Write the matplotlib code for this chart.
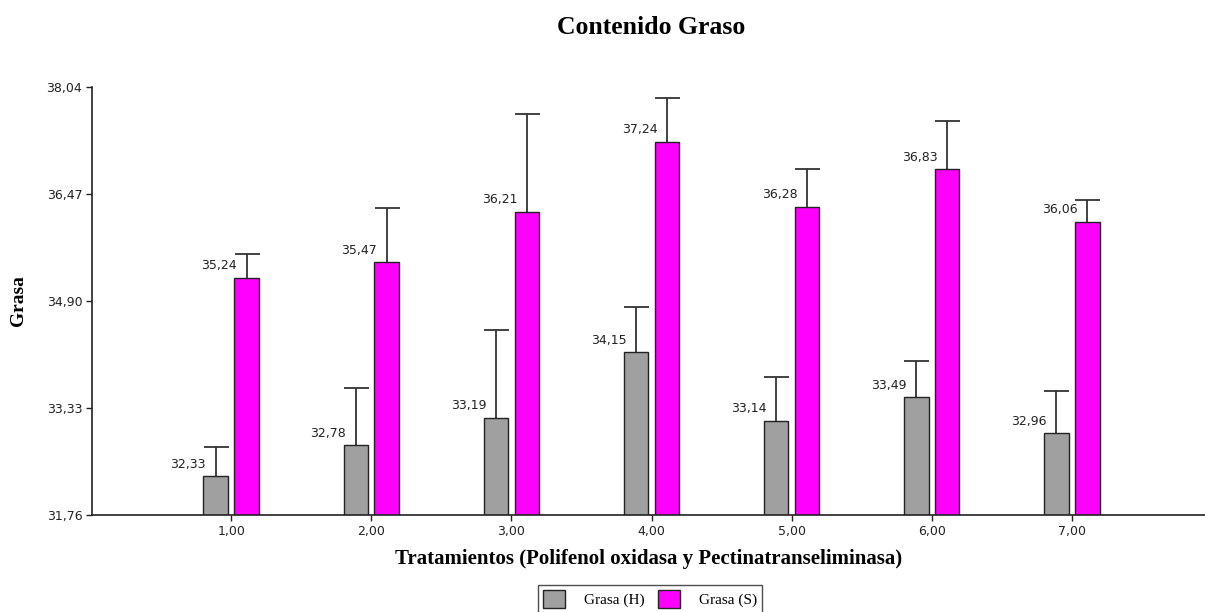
import numpy as np
import matplotlib
matplotlib.use("Agg")
import matplotlib.pyplot as plt

# data
tratamientos = [1, 2, 3, 4, 5, 6, 7]
tick_labels = ["1,00", "2,00", "3,00", "4,00", "5,00", "6,00", "7,00"]
grasa_h = [32.33, 32.78, 33.19, 34.15, 33.14, 33.49, 32.96]
grasa_s = [35.24, 35.47, 36.21, 37.24, 36.28, 36.83, 36.06]
err_h = [0.43, 0.84, 1.28, 0.66, 0.64, 0.53, 0.62]
err_s = [0.35, 0.80, 1.43, 0.64, 0.55, 0.71, 0.32]
y_ticks = [31.76, 33.33, 34.90, 36.47, 38.04]

SERIF = "Liberation Serif"
SANS = "DejaVu Sans"

fig = plt.figure(figsize=(12.05, 6.12), dpi=100)
ax = fig.add_axes([92 / 1205, 1 - 515 / 612, 1 - 92 / 1205, (515 - 87) / 612])

x = np.array(tratamientos, dtype=float)
w = 0.175
off = 0.11

bh = ax.bar(x - off, grasa_h, w, color="#A0A0A0", edgecolor="#222222",
            linewidth=1.0, label="Grasa (H)", zorder=2)
bs = ax.bar(x + off, grasa_s, w, color="#FF00FF", edgecolor="#222222",
            linewidth=1.0, label="Grasa (S)", zorder=2)

zeros = np.zeros(len(x))
for xs, vals, errs in [(x - off, grasa_h, err_h), (x + off, grasa_s, err_s)]:
    eb = ax.errorbar(xs, vals, yerr=[zeros, errs], fmt="none", ecolor="#333333",
                     elinewidth=1.3, capsize=9, capthick=1.3, zorder=1)
    # only the upper cap is shown
    eb[1][0].set_visible(False)
    for xi, v in zip(xs, vals):
        ax.annotate(f"{v:.2f}".replace(".", ","), (xi, v), xytext=(-7, 4),
                    textcoords="offset points", ha="right", va="bottom",
                    fontsize=9, family=SANS, color="#222222")

ax.set_xlim(0.007, 7.95)
ax.set_ylim(31.76, 38.04)
ax.set_yticks(y_ticks)
ax.set_yticklabels([f"{t:.2f}".replace(".", ",") for t in y_ticks], fontsize=9, family=SANS)
ax.set_xticks(x)
ax.set_xticklabels(tick_labels, fontsize=9, family=SANS)
ax.tick_params(length=4, width=1, color="#222222", labelcolor="#222222", pad=3)

for s in ["top", "right"]:
    ax.spines[s].set_visible(False)
for s in ["left", "bottom"]:
    ax.spines[s].set_color("#222222")
    ax.spines[s].set_linewidth(1.2)

ax.set_xlabel("Tratamientos (Polifenol oxidasa y Pectinatranseliminasa)",
              fontsize=15, fontweight="bold", family=SERIF, labelpad=8)
ax.set_ylabel("Grasa", fontsize=14, fontweight="bold", family=SERIF, labelpad=14)
fig.text(651 / 1205, 1 - 28 / 612, "Contenido Graso", ha="center", va="center",
         fontsize=18.5, fontweight="bold", family=SERIF)

leg = fig.legend(handles=[bh, bs], loc="center", bbox_to_anchor=(650 / 1205, 1 - 599 / 612),
                 ncol=2, frameon=True, fancybox=False, edgecolor="#222222",
                 prop={"family": SERIF, "size": 11}, handlelength=1.45, handleheight=1.45,
                 handletextpad=1.2, columnspacing=0.9, borderpad=0.35)
leg.get_frame().set_linewidth(1.0)

fig.savefig("out.png", dpi=100)
